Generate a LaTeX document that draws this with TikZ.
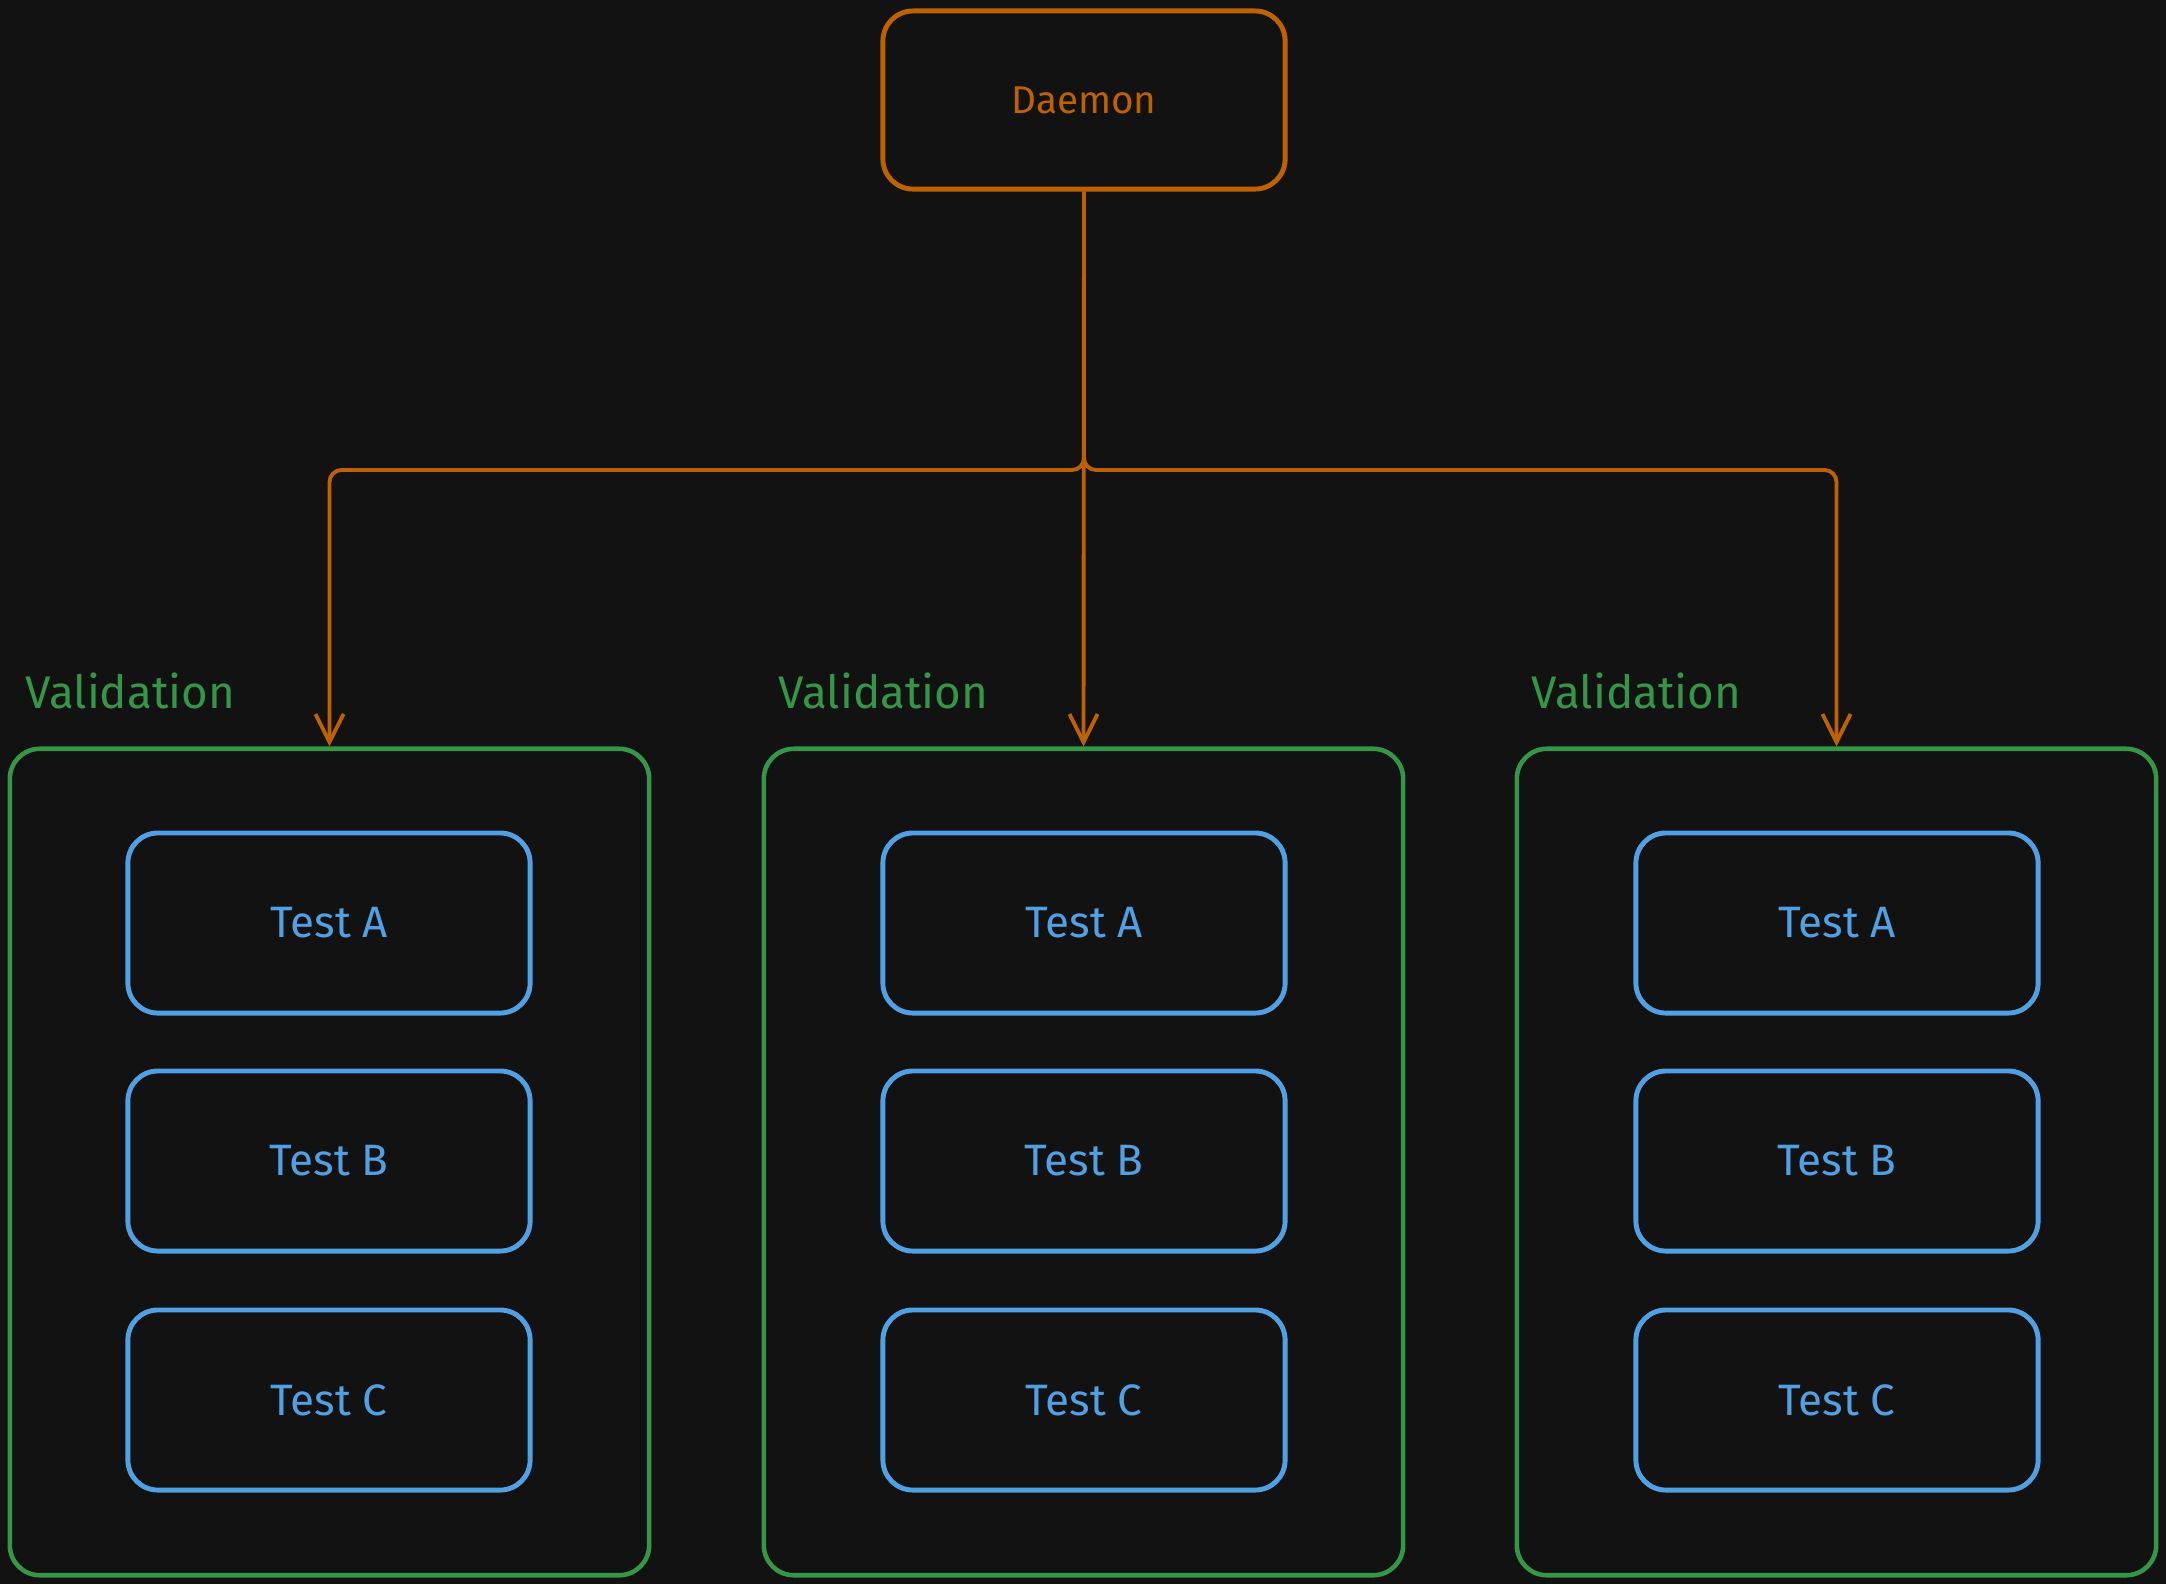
\documentclass[tikz,border=0pt]{standalone}
\usepackage{fontspec}
\setmainfont{Fira Sans}
\usetikzlibrary{arrows.meta}
\definecolor{bgdark}{HTML}{121212}
\definecolor{daemonorange}{RGB}{190,98,0}
\definecolor{groupgreen}{RGB}{52,150,70}
\definecolor{testblue}{RGB}{82,160,228}
\begin{document}
\begin{tikzpicture}[x=0.01cm,y=-0.01cm,
  daemonbox/.style={draw=daemonorange, line width=1.4pt, rounded corners=0.3cm,
    minimum width=4.02cm, minimum height=1.78cm, text=daemonorange, font=\fontsize{11}{13}\selectfont},
  groupbox/.style={draw=groupgreen, line width=1.3pt, rounded corners=0.3cm,
    minimum width=6.39cm, minimum height=8.26cm},
  testbox/.style={draw=testblue, line width=1.4pt, rounded corners=0.3cm,
    minimum width=4.02cm, minimum height=1.80cm, text=testblue, font=\fontsize{12.5}{14}\selectfont},
  grouplabel/.style={text=groupgreen, anchor=west, inner sep=0pt, font=\fontsize{13}{15}\selectfont},
  feed/.style={draw=daemonorange, line width=1.1pt, rounded corners=0.12cm,
    -{Straight Barb[length=8pt,width=8pt,line width=1.1pt]}}]

% page background
\fill[bgdark] (0,0) rectangle (2166,1584);
\useasboundingbox (0,0) rectangle (2166,1584);

% source
\node[daemonbox] (daemon) at (1084,100) {Daemon};

% three validation groups
\node[groupbox] (v1) at (329.5,1162) {};
\node[groupbox] (v2) at (1083.5,1162) {};
\node[groupbox] (v3) at (1836.5,1162) {};

\node[grouplabel] (l1) at (25,691) {Validation};
\node[grouplabel] (l2) at (778,691) {Validation};
\node[grouplabel] (l3) at (1531,691) {Validation};

% tests inside each group
\foreach \g/\cx in {1/329, 2/1084, 3/1837} {
  \node[testbox] (t\g a) at (\cx,923) {Test A};
  \node[testbox] (t\g b) at (\cx,1161) {Test B};
  \node[testbox] (t\g c) at (\cx,1400) {Test C};
}

% fan-out from the daemon
\coordinate (fork) at (1084,470);
\draw[feed] (daemon.south) -- (fork) -| (v1.north);
\draw[feed] (daemon.south) -- (v2.north);
\draw[feed] (daemon.south) -- (fork) -| (v3.north);
\end{tikzpicture}
\end{document}
